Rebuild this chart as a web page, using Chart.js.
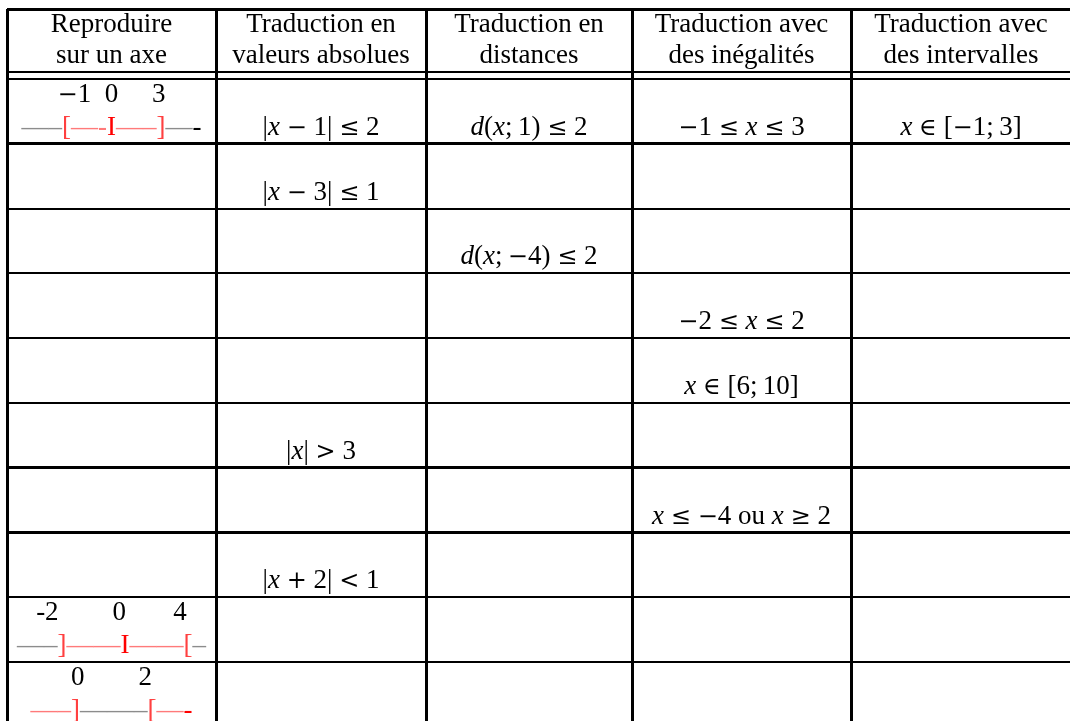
<!DOCTYPE html>
<html>
<head>
<meta charset="utf-8">
<script src="https://cdn.jsdelivr.net/npm/chart.js@4.4.1/dist/chart.umd.min.js"></script>
<style>
    html, body { margin: 0; padding: 0; background: #fff; overflow: hidden; }
    #wrap { position: relative; width: 1080px; height: 740px; }
</style>
</head>
<body>
<div id="wrap"><canvas id="tableChart" width="1080" height="740"></canvas></div>
<script>
// === DATA ===
const headers = [
    ['Reproduire', 'sur un axe'],
    ['Traduction en', 'valeurs absolues'],
    ['Traduction en', 'distances'],
    ['Traduction avec', 'des inégalités'],
    ['Traduction avec', 'des intervalles']
];

const absValues = ['|x − 1| ≤ 2', '|x − 3| ≤ 1', '', '', '', '|x| > 3', '', '|x + 2| < 1', '', ''];
const distances = ['d(x;\u20091) ≤ 2', '', 'd(x;\u2009−4) ≤ 2', '', '', '', '', '', '', ''];
const inequalities = ['−1 ≤ x ≤ 3', '', '', '−2 ≤ x ≤ 2', 'x ∈ [6;\u200910]', '', 'x ≤ −4 ou x ≥ 2', '', '', ''];
const intervals = ['x ∈ [−1;\u20093]', '', '', '', '', '', '', '', '', ''];

// number lines in the first column: tick labels and the drawn axis (text, colour key)
const axisTicks = ['−1  0     3', '', '', '', '', '', '', '', '-2        0       4', '0        2'];
const axisLines = [
    [['—–', 'g'], ['[', 'b'], ['—-', 'p'], ['I', 'r'], ['—–', 'p'], [']', 'b'], ['—', 'g'], ['-', 'k']],
    null, null, null, null, null, null, null,
    [['—–', 'g'], [']', 'b'], ['——', 'p'], ['I', 'r'], ['——', 'p'], ['[', 'b'], ['–', 'g']],
    [['—–', 'p'], [']', 'b'], ['——–', 'g'], ['[', 'b'], ['—', 'p'], ['-', 'r']]
];

// === LAYOUT ===
const colEdges = [0, 209, 419, 625, 844, 1064];
const rowEdges = [-1.08, -0.11, 0, 1, 2, 3, 4, 5, 6, 7, 8, 9, 10];
const ruleWidths = [3, 2, 2, 3, 2, 2, 2, 2, 3, 3, 2, 2, 2];
const colours = { g: '#8c8c8c', b: '#ff4040', p: '#ff7a7a', r: '#ff0000', k: '#000000' };
const FONT = "'Liberation Serif', 'Times New Roman', serif";
const SYM_FONT = "'DejaVu Serif', serif";
const SIZE = 27;
const SYM_SIZE = 24;

// split a formula into runs: 0 = upright, 1 = italic variable, 2 = operator symbol
function mathRuns(str) {
    const runs = [];
    const re = /(ou)|([a-zA-Z])|([≤≥∈−+<>])|([^a-zA-Z≤≥∈−+<>]+)/g;
    let m;
    while ((m = re.exec(str)) !== null) {
        if (m[2]) runs.push([m[2], '#000', 1]);
        else if (m[3]) runs.push([m[3], '#000', 2]);
        else runs.push([m[0], '#000', 0]);
    }
    return runs;
}

function fontFor(kind) {
    if (kind === 1) return 'italic ' + SIZE + 'px ' + FONT;
    if (kind === 2) return SYM_SIZE + 'px ' + SYM_FONT;
    return SIZE + 'px ' + FONT;
}

function drawRuns(ctx, runs, cx, baseline) {
    let total = 0;
    const widths = runs.map(r => {
        ctx.font = fontFor(r[2]);
        const w = ctx.measureText(r[0]).width;
        total += w;
        return w;
    });
    let xPos = cx - total / 2;
    ctx.textBaseline = 'alphabetic';
    ctx.textAlign = 'left';
    runs.forEach((r, i) => {
        ctx.font = fontFor(r[2]);
        ctx.fillStyle = r[1];
        ctx.fillText(r[0], xPos, baseline);
        xPos += widths[i];
    });
}

const cellText = {
    id: 'cellText',
    afterDraw: function (chart) {
        const ctx = chart.ctx;
        const x = chart.scales.x;
        const y = chart.scales.y;
        const centre = c => (x.getPixelForValue(colEdges[c]) + x.getPixelForValue(colEdges[c + 1])) / 2;

        ctx.save();
        // header
        const headTop = y.getPixelForValue(rowEdges[0]);
        headers.forEach((lines, c) => {
            drawRuns(ctx, [[lines[0], '#000', 0]], centre(c), headTop + 23);
            drawRuns(ctx, [[lines[1], '#000', 0]], centre(c), headTop + 54);
        });

        // body rows
        const columns = [null, absValues, distances, inequalities, intervals];
        for (let r = 0; r < absValues.length; r++) {
            const top = y.getPixelForValue(r);
            const bottom = y.getPixelForValue(r + 1);
            const baseline = bottom - 9;

            if (axisTicks[r]) {
                drawRuns(ctx, mathRuns(axisTicks[r]), centre(0), top + 23);
            }
            if (axisLines[r]) {
                drawRuns(ctx, axisLines[r].map(s => [s[0], colours[s[1]], 0]), centre(0), baseline);
            }
            for (let c = 1; c < columns.length; c++) {
                const txt = columns[c][r];
                if (txt) drawRuns(ctx, mathRuns(txt), centre(c), baseline);
            }
        }
        ctx.restore();
    }
};

const ctx = document.getElementById('tableChart').getContext('2d');
new Chart(ctx, {
    type: 'scatter',
    data: { datasets: [] },
    options: {
        responsive: false,
        animation: false,
        events: [],
        layout: { padding: { left: 7, top: 9, right: 9, bottom: 13 } },
        plugins: { legend: { display: false }, tooltip: { enabled: false } },
        scales: {
            x: {
                type: 'linear',
                min: colEdges[0],
                max: colEdges[colEdges.length - 1],
                afterBuildTicks: axis => { axis.ticks = colEdges.map(v => ({ value: v })); },
                ticks: { display: false },
                border: { display: false },
                grid: { color: '#000', lineWidth: 3, drawTicks: false }
            },
            y: {
                type: 'linear',
                reverse: true,
                min: rowEdges[0],
                max: rowEdges[rowEdges.length - 1],
                afterBuildTicks: axis => { axis.ticks = rowEdges.map(v => ({ value: v })); },
                ticks: { display: false },
                border: { display: false },
                grid: {
                    color: '#000',
                    lineWidth: context => ruleWidths[context.index] || 2,
                    drawTicks: false
                }
            }
        }
    },
    plugins: [cellText]
});
</script>
</body>
</html>
